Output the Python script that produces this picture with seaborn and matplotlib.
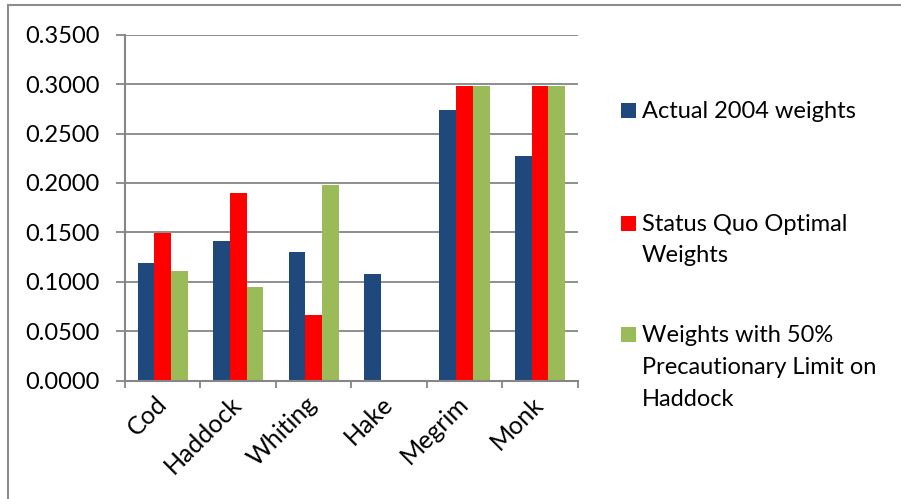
import matplotlib
matplotlib.use("Agg")
import matplotlib.pyplot as plt
import numpy as np
import pandas as pd
import seaborn as sns
from matplotlib.lines import Line2D
from matplotlib.patches import Rectangle
from matplotlib.ticker import FixedLocator, FormatStrFormatter

# Fishing weights per species
species = ["Cod", "Haddock", "Whiting", "Hake", "Megrim", "Monk"]
actual_2004 = [0.119, 0.141, 0.130, 0.108, 0.274, 0.227]
status_quo = [0.149, 0.190, 0.066, 0.0, 0.298, 0.298]
precautionary = [0.111, 0.095, 0.198, 0.0, 0.298, 0.298]

series_names = [
    "Actual 2004 weights",
    "Status Quo Optimal Weights",
    "Weights with 50% Precautionary Limit on Haddock",
]
legend_lines = [
    ["Actual 2004 weights"],
    ["Status Quo Optimal", "Weights"],
    ["Weights with 50%", "Precautionary Limit on", "Haddock"],
]
colors = ["#1F497D", "#FF0000", "#9BBB59"]
y_ticks = [0.0, 0.05, 0.10, 0.15, 0.20, 0.25, 0.30, 0.35]

rows = []
for name, vals in zip(series_names, [actual_2004, status_quo, precautionary]):
    for sp, v in zip(species, vals):
        rows.append({"species": sp, "series": name, "value": v})
df = pd.DataFrame(rows)

sns.set_theme(style="white")
plt.rcParams["font.family"] = ["Lato", "DejaVu Sans"]

W, H = 901, 499
fig = plt.figure(figsize=(W / 100, H / 100), dpi=100)
ax = fig.add_axes([125 / W, 1 - 380.7 / H, (577.7 - 125) / W, (380.7 - 34.7) / H])

sns.barplot(data=df, x="species", y="value", hue="series", hue_order=series_names,
            order=species, palette=colors, saturation=1, width=0.665,
            errorbar=None, legend=False, linewidth=0, ax=ax)

grey = "#868686"
ax.set_xlim(-0.5, len(species) - 0.5)
ax.set_ylim(0, 0.35)
ax.set_yticks(y_ticks)
ax.yaxis.set_major_formatter(FormatStrFormatter("%.4f"))
ax.grid(axis="y", color=grey, lw=1.3)
ax.grid(axis="x", visible=False)
ax.set_axisbelow(True)
ax.set_xlabel("")
ax.set_ylabel("")

for side in ["top", "right"]:
    ax.spines[side].set_visible(False)
for side in ["left", "bottom"]:
    ax.spines[side].set_color(grey)
    ax.spines[side].set_linewidth(1.5)

ax.tick_params(axis="y", which="major", length=6.5, width=1.3, color=grey,
               direction="out", pad=12, labelsize=17, labelcolor="black", left=True)
ax.xaxis.set_minor_locator(FixedLocator(np.arange(-0.5, len(species), 1.0)))
ax.tick_params(axis="x", which="minor", length=5, width=1.3, color=grey,
               direction="out", bottom=True)
ax.tick_params(axis="x", which="major", length=0, pad=14, labelsize=18,
               labelcolor="black")
for lbl in ax.get_xticklabels():
    lbl.set_rotation(45)
    lbl.set_ha("right")
    lbl.set_va("center")
    lbl.set_rotation_mode("anchor")

# Outer frame lines (top and left)
fig.add_artist(Line2D([8 / W, 8 / W], [0, 1 - 5 / H], transform=fig.transFigure,
                      color="#8c8c8c", lw=1.5))
fig.add_artist(Line2D([8 / W, 1], [1 - 5 / H, 1 - 5 / H], transform=fig.transFigure,
                      color="#8c8c8c", lw=1.5))

# Legend on the right
baselines = [[118], [230.7, 262.3], [342.3, 374, 405.7]]
for color, lines, bls in zip(colors, legend_lines, baselines):
    fig.add_artist(Rectangle((621 / W, 1 - bls[0] / H), 15 / W, 15 / H,
                             transform=fig.transFigure, color=color, lw=0))
    for text, bl in zip(lines, bls):
        fig.text(642 / W, 1 - bl / H, text, ha="left", va="baseline",
                 fontsize=17, color="black")

fig.savefig("out.png", dpi=100)
